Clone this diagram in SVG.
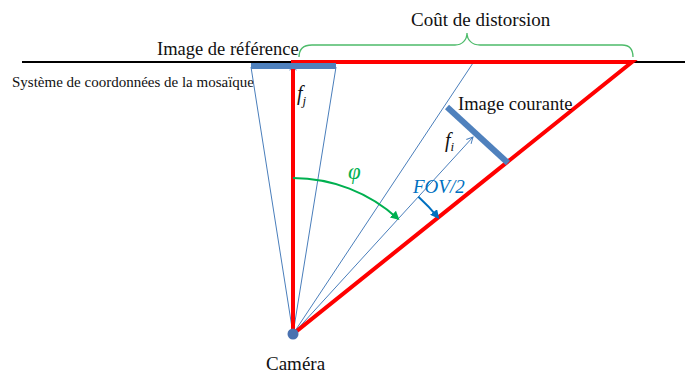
<svg xmlns="http://www.w3.org/2000/svg" width="685" height="376" viewBox="0 0 685 376">
<style>
.t{font-family:"Liberation Serif","Times New Roman",serif;fill:#111}
.it{font-style:italic}
.thin{stroke:#4a7ebb;stroke-width:1;fill:none}
.red{stroke:#ff0000;stroke-width:4;fill:none;stroke-linejoin:miter}
.bar{stroke:#4f81bd;stroke-width:6;fill:none}
</style>
<defs>
<marker id="openB" viewBox="0 0 10 10" refX="9" refY="5" markerWidth="8" markerHeight="8" markerUnits="userSpaceOnUse" orient="auto">
<path d="M1,1 L9,5 L1,9" fill="none" stroke="#4a7ebb" stroke-width="1.2"/>
</marker>
<marker id="arrG" viewBox="0 0 10 10" refX="8" refY="5" markerWidth="9" markerHeight="9" markerUnits="userSpaceOnUse" orient="auto">
<path d="M0,0 L10,5 L0,10 Z" fill="#00b050"/>
</marker>
<marker id="arrB" viewBox="0 0 10 10" refX="8" refY="5" markerWidth="9" markerHeight="9" markerUnits="userSpaceOnUse" orient="auto">
<path d="M0,0 L10,5 L0,10 Z" fill="#0070c0"/>
</marker>
</defs>

<g id="mosaic-axis">
<line x1="22" y1="62" x2="685" y2="62" stroke="#000" stroke-width="2"/>
<text class="t" x="12" y="87" font-size="15">Système de coordonnées de la mosaïque</text>
</g>

<g id="connectors">
<line class="thin" x1="293" y1="334" x2="251" y2="67"/>
<line class="thin" x1="293" y1="334" x2="336" y2="67"/>
<line class="thin" x1="293" y1="334" x2="473" y2="63"/>
<line class="thin" x1="293" y1="334" x2="293" y2="64" marker-end="url(#openB)"/>
<line class="thin" x1="293" y1="334" x2="473" y2="137" marker-end="url(#openB)"/>
<path class="red" d="M293,334 L293,62 L632,62 Z"/>
<path d="M293,178 A156,156 0 0 1 398.2,218.9" fill="none" stroke="#00b050" stroke-width="2" marker-end="url(#arrG)"/>
<path d="M418.4,196.7 A186,186 0 0 1 438.1,217.6" fill="none" stroke="#0070c0" stroke-width="2" marker-end="url(#arrB)"/>
<path d="M299,57 C299,50 302,45 312,45 L455,45 C462,45 467,40 467,33 C467,40 472,45 480,45 L622,45 C630,45 633,50 633,57" fill="none" stroke="#4dbb6a" stroke-width="1.3"/>
</g>

<g id="reference-image">
<line class="bar" x1="251" y1="66" x2="336" y2="66"/>
<text class="t" x="157" y="55" font-size="18.5">Image de référence</text>
<text class="t it" x="297" y="100" font-size="20">f<tspan font-size="13" dy="5">j</tspan></text>
</g>

<g id="current-image">
<line class="bar" x1="447" y1="107" x2="508" y2="163"/>
<text class="t" x="458" y="110" font-size="18.5">Image courante</text>
<text class="t it" x="445" y="147" font-size="20">f<tspan font-size="13" dy="4">i</tspan></text>
</g>

<g id="distortion-cost">
<text class="t" x="411" y="26" font-size="19">Coût de distorsion</text>
</g>

<g id="labels">
<text class="t it" x="348" y="179" font-size="23" style="fill:#00b050">φ</text>
<text class="t it" x="413" y="193" font-size="19" style="fill:#0070c0">FOV/2</text>
</g>

<g id="camera">
<circle cx="293" cy="334" r="5.5" fill="#4a72b0"/>
<text class="t" x="266" y="370" font-size="19">Caméra</text>
</g>
</svg>
